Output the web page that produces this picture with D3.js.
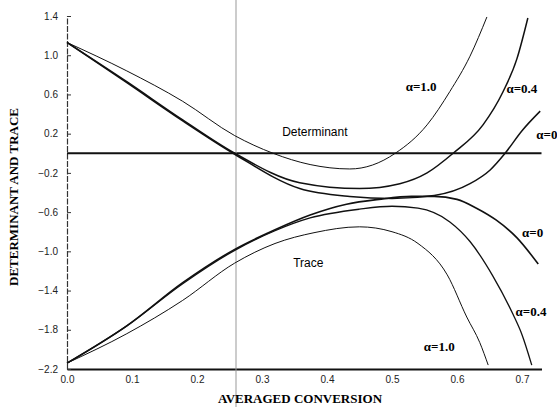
<!DOCTYPE html>
<html>
<head>
<meta charset="utf-8">
<script src="https://cdn.jsdelivr.net/npm/d3@7"></script>
<style>
  body { margin: 0; background: #fff; }
  svg { display: block; }
</style>
</head>
<body>
<div id="chart"></div>
<script>
// values, [conversion, value]
const detAlpha0 = [[0,1.13],[0.092,0.72],[0.178,0.33],[0.258,-0.01],[0.358,-0.36],[0.435,-0.44],[0.5,-0.46],[0.565,-0.43],[0.62,-0.31],[0.651,-0.17],[0.674,0],[0.70,0.23],[0.728,0.43]];
const detAlpha04 = [[0,1.13],[0.092,0.73],[0.178,0.34],[0.258,0],[0.358,-0.30],[0.45,-0.36],[0.512,-0.31],[0.554,-0.20],[0.594,0],[0.64,0.29],[0.671,0.63],[0.692,0.96],[0.709,1.38]];
const detAlpha10 = [[0,1.13],[0.092,0.84],[0.178,0.53],[0.258,0.18],[0.317,0],[0.374,-0.115],[0.435,-0.16],[0.47,-0.12],[0.505,0],[0.554,0.29],[0.589,0.63],[0.62,0.99],[0.646,1.39]];
const trAlpha0 = [[0,-2.14],[0.092,-1.76],[0.178,-1.32],[0.258,-0.98],[0.32,-0.78],[0.374,-0.63],[0.43,-0.52],[0.48,-0.47],[0.53,-0.44],[0.565,-0.44],[0.60,-0.47],[0.63,-0.56],[0.66,-0.68],[0.692,-0.86],[0.725,-1.13]];
const trAlpha04 = [[0,-2.14],[0.092,-1.76],[0.178,-1.33],[0.258,-0.99],[0.32,-0.79],[0.374,-0.66],[0.45,-0.57],[0.50,-0.54],[0.54,-0.56],[0.589,-0.70],[0.62,-0.90],[0.655,-1.25],[0.686,-1.64],[0.70,-1.85],[0.715,-2.16]];
const trAlpha10 = [[0,-2.14],[0.092,-1.84],[0.178,-1.50],[0.258,-1.12],[0.32,-0.92],[0.38,-0.81],[0.45,-0.75],[0.50,-0.80],[0.54,-0.92],[0.585,-1.24],[0.615,-1.67],[0.635,-1.93],[0.648,-2.16]];

const xTicks = [0, 0.1, 0.2, 0.3, 0.4, 0.5, 0.6, 0.7];
const yTicks = [1.4, 1.0, 0.6, 0.2, -0.2, -0.6, -1.0, -1.4, -1.8, -2.2];
const markerX = 0.26;

const width = 557, height = 407;

const svg = d3.select("#chart").append("svg")
  .attr("width", width)
  .attr("height", height);

const x = d3.scaleLinear().domain([0, 0.73]).range([67, 541.5]);
const y = d3.scaleLinear().domain([-2.2, 1.4]).range([369, 16]);

const sans = "Liberation Sans, Arial, sans-serif";
const serif = "Liberation Serif, Times New Roman, serif";

// axes
svg.append("g")
  .attr("transform", "translate(0," + y(-2.2) + ")")
  .call(d3.axisBottom(x).tickValues(xTicks).tickFormat(d3.format(".1f")).tickSize(0).tickPadding(7))
  .call(g => g.select(".domain").attr("stroke", "#111").attr("stroke-width", 1.8))
  .call(g => g.selectAll("text").attr("font-family", sans).attr("font-size", 10).attr("fill", "#222"));

svg.append("g")
  .attr("transform", "translate(" + x(0) + ",0)")
  .call(d3.axisLeft(y).tickValues(yTicks).tickFormat(d3.format(".1f")).tickSize(-4).tickSizeOuter(0).tickPadding(9))
  .call(g => g.select(".domain").attr("stroke", "#333").attr("stroke-width", 1.2).attr("stroke-dasharray", "6,1.5"))
  .call(g => g.selectAll(".tick line").attr("stroke", "#333"))
  .call(g => g.selectAll("text").attr("font-family", sans).attr("font-size", 10).attr("fill", "#222"));

// zero line
svg.append("line")
  .attr("x1", x(0)).attr("x2", x(0.73))
  .attr("y1", y(0)).attr("y2", y(0))
  .attr("stroke", "#111").attr("stroke-width", 2);

// vertical marker
svg.append("line")
  .attr("x1", x(markerX)).attr("x2", x(markerX))
  .attr("y1", 0).attr("y2", height)
  .attr("stroke", "#999").attr("stroke-width", 1);

const line = d3.line()
  .x(d => x(d[0]))
  .y(d => y(d[1]))
  .curve(d3.curveMonotoneX);

const series = [
  {data: detAlpha0, w: 1.5},
  {data: detAlpha04, w: 1.5},
  {data: detAlpha10, w: 1},
  {data: trAlpha0, w: 1.6},
  {data: trAlpha04, w: 1.3},
  {data: trAlpha10, w: 1}
];

svg.append("g").selectAll("path")
  .data(series)
  .enter()
  .append("path")
  .attr("d", d => line(d.data))
  .attr("fill", "none")
  .attr("stroke", "#111")
  .attr("stroke-width", d => d.w);

// annotations
svg.append("text").attr("x", x(0.331)).attr("y", y(0.18))
  .attr("font-family", sans).attr("font-size", 12).text("Determinant");
svg.append("text").attr("x", x(0.348)).attr("y", y(-1.16))
  .attr("font-family", sans).attr("font-size", 12).text("Trace");

const alphaLabels = [
  {t: "α=1.0", cx: 0.521, cy: 0.635},
  {t: "α=0.4", cx: 0.676, cy: 0.615},
  {t: "α=0", cx: 0.722, cy: 0.146},
  {t: "α=0", cx: 0.700, cy: -0.85},
  {t: "α=0.4", cx: 0.690, cy: -1.66},
  {t: "α=1.0", cx: 0.549, cy: -2.02}
];
svg.append("g").selectAll("text")
  .data(alphaLabels)
  .enter()
  .append("text")
  .attr("x", d => x(d.cx))
  .attr("y", d => y(d.cy))
  .attr("font-family", serif)
  .attr("font-weight", "bold")
  .attr("font-size", 13)
  .text(d => d.t);

// axis titles
svg.append("text")
  .attr("x", 300).attr("y", 403)
  .attr("text-anchor", "middle")
  .attr("font-family", serif).attr("font-weight", "bold").attr("font-size", 13)
  .text("AVERAGED CONVERSION");

svg.append("text")
  .attr("transform", "translate(18,197) rotate(-90)")
  .attr("text-anchor", "middle")
  .attr("font-family", serif).attr("font-weight", "bold").attr("font-size", 13)
  .text("DETERMINANT AND TRACE");
</script>
</body>
</html>
